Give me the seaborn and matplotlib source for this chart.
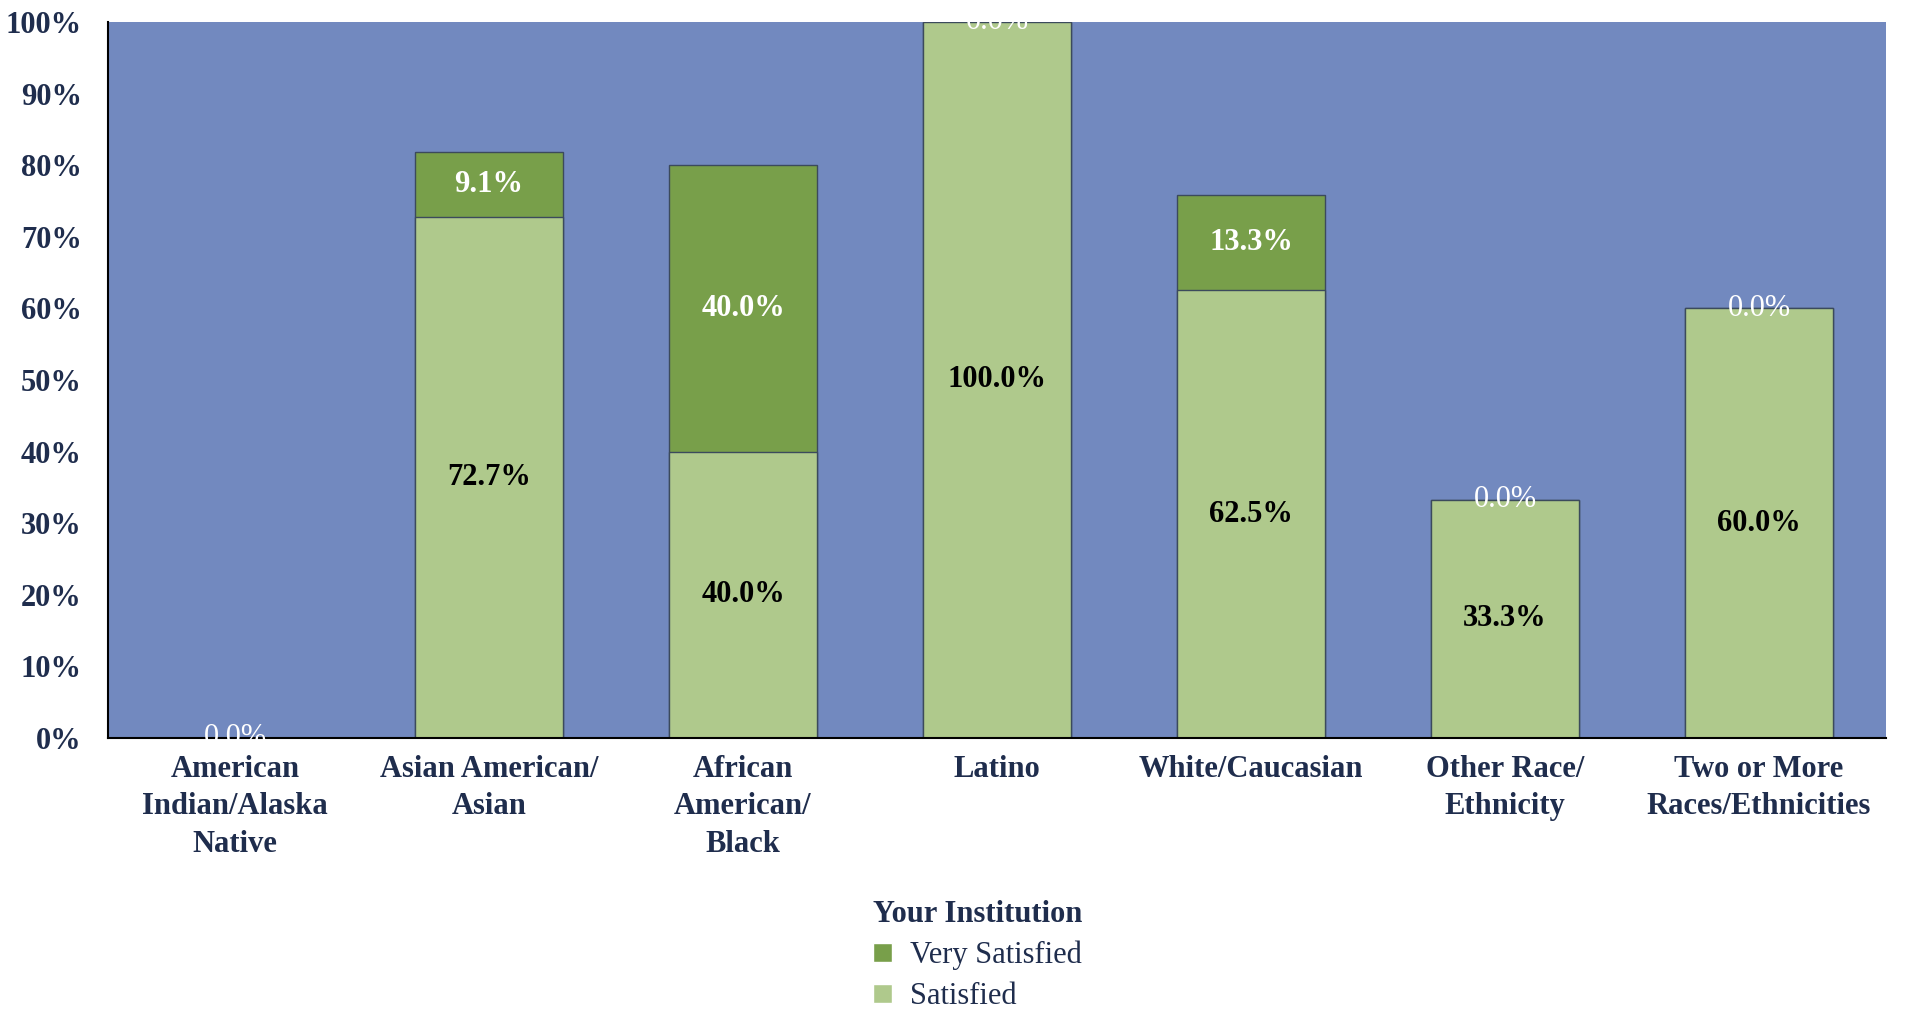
import matplotlib
matplotlib.use('Agg')
import matplotlib.pyplot as plt
from matplotlib.patches import Patch
import seaborn as sns
import pandas as pd

categories = [
    'American\nIndian/Alaska\nNative', 'Asian American/\nAsian', 'African\nAmerican/\nBlack',
    'Latino', 'White/Caucasian', 'Other Race/\nEthnicity', 'Two or More\nRaces/Ethnicities'
]
satisfied = [0.0, 72.7, 40.0, 100.0, 62.5, 33.3, 60.0]
very_satisfied = [0.0, 9.1, 40.0, 0.0, 13.3, 0.0, 0.0]

navy = '#1F2D4D'
bg_blue = '#7289BF'
light_green = '#AFC98C'
dark_green = '#789F4A'
fs = 22

sns.set_style('white')
plt.rcParams['font.family'] = ['Liberation Serif', 'DejaVu Serif']

df = pd.DataFrame({'cat': categories, 'sat': satisfied, 'very': very_satisfied})
df['total'] = df['sat'] + df['very']

fig = plt.figure(figsize=(19.06, 10.13), dpi=100)
ax = fig.add_axes([0.0567, 0.2715, 0.9328, 0.7068])
ax.set_facecolor(bg_blue)

# stacked: draw totals in dark green, then satisfied over them
sns.barplot(data=df, x='cat', y='total', color=dark_green, width=0.58,
            edgecolor='#3B4A5C', linewidth=1, saturation=1, ax=ax)
sns.barplot(data=df, x='cat', y='sat', color=light_green, width=0.58,
            edgecolor='#3B4A5C', linewidth=1, saturation=1, ax=ax)

ax.set_ylim(0, 100)
ax.set_xlim(-0.5, len(categories) - 0.5)
ax.set_yticks(range(0, 101, 10))
ax.set_yticklabels([f'{v}%' for v in range(0, 101, 10)])
ax.tick_params(axis='y', length=0, pad=19, labelsize=fs, labelcolor=navy)
ax.tick_params(axis='x', length=0, pad=12, labelsize=fs, labelcolor=navy)
for lab in ax.get_yticklabels() + ax.get_xticklabels():
    lab.set_fontweight('bold')
for lab in ax.get_xticklabels():
    lab.set_linespacing(1.4)
ax.set_xlabel('')
ax.set_ylabel('')
for side in ['top', 'right']:
    ax.spines[side].set_visible(False)
for side in ['left', 'bottom']:
    ax.spines[side].set_color('black')
    ax.spines[side].set_linewidth(1.5)

# data labels
for i, (s, v) in enumerate(zip(satisfied, very_satisfied)):
    if s > 0:
        ax.text(i, s / 2, f'{s:.1f}%', ha='center', va='center', fontsize=fs,
                fontweight='bold', color='black')
    ytop = s + v / 2
    ax.text(i, ytop, f'{v:.1f}%', ha='center', va='center', fontsize=fs,
            fontweight='bold' if v > 0 else 'normal', color='white',
            clip_on=ytop >= 100)

handles = [Patch(facecolor=dark_green, label='Very Satisfied'),
           Patch(facecolor=light_green, label='Satisfied')]
leg = fig.legend(handles=handles, title='Your Institution', loc='upper center',
                 bbox_to_anchor=(978 / 1906, 1 - 885 / 1013), frameon=False,
                 fontsize=fs, title_fontsize=fs, alignment='left',
                 handlelength=0.6, handleheight=0.6, handletextpad=0.6,
                 labelspacing=0.38, borderpad=0)
leg.get_title().set_fontweight('bold')
leg.get_title().set_color(navy)
for t in leg.get_texts():
    t.set_color(navy)

fig.savefig('out.png', dpi=100)
